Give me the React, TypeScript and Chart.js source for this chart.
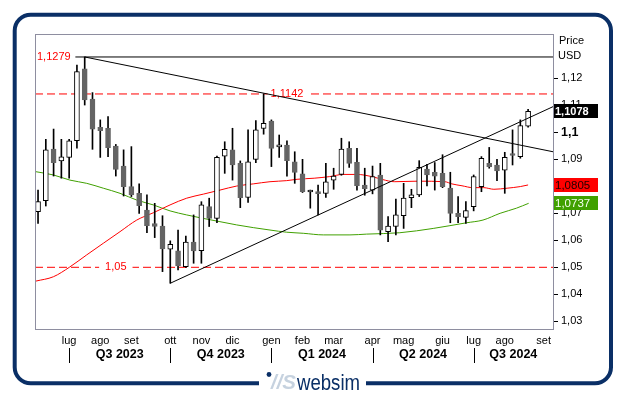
import React, { useEffect, useRef } from 'react';
import { Chart, registerables } from 'chart.js';

Chart.register(...registerables);

// Weekly EUR/USD candles (week 0 = first week of June 2023)
const opens = [
  1.0706, 1.0747, 1.0938, 1.0894, 1.0907, 1.0969, 1.1235, 1.1123, 1.1018, 1.1015,
  1.0949, 1.0875, 1.0799, 1.0774, 1.0712, 1.0662, 1.0653, 1.0567, 1.0561, 1.0502,
  1.0593, 1.0562, 1.0725, 1.0681, 1.0912, 1.0935, 1.0885, 1.0759, 1.0900, 1.1014,
  1.1042, 1.0946, 1.0953, 1.0891, 1.0846, 1.0779, 1.0779, 1.0774, 1.0823, 1.0844,
  1.0941, 1.0889, 1.0805, 1.0786, 1.0842, 1.0632, 1.0651, 1.0691, 1.0758, 1.0768,
  1.0864, 1.0852, 1.0848, 1.0793, 1.0700, 1.0685, 1.0725, 1.0799, 1.0885, 1.0879,
  1.0860, 1.0920, 1.0910, 1.1023,
];
const highs = [
  1.0786, 1.0974, 1.1012, 1.0974, 1.0974, 1.1249, 1.1279, 1.1147, 1.1046, 1.1058,
  1.0955, 1.0935, 1.0947, 1.0809, 1.0768, 1.0737, 1.0691, 1.0598, 1.0638, 1.0616,
  1.0694, 1.0743, 1.0756, 1.0912, 1.0965, 1.1015, 1.0894, 1.1009, 1.1043, 1.1142,
  1.1046, 1.0990, 1.0968, 1.0928, 1.0900, 1.0786, 1.0805, 1.0885, 1.0867, 1.0978,
  1.0965, 1.0941, 1.0867, 1.0875, 1.0885, 1.0688, 1.0753, 1.0811, 1.0789, 1.0895,
  1.0881, 1.0888, 1.0917, 1.0852, 1.0762, 1.0743, 1.0842, 1.0910, 1.0944, 1.0900,
  1.0926, 1.1009, 1.1046, 1.1085,
];
const lows = [
  1.0663, 1.0727, 1.0838, 1.0830, 1.0830, 1.0941, 1.1101, 1.0937, 1.0907, 1.0910,
  1.0838, 1.0764, 1.0762, 1.0700, 1.0628, 1.0610, 1.0484, 1.0441, 1.0490, 1.0500,
  1.0515, 1.0515, 1.0651, 1.0665, 1.0848, 1.0823, 1.0721, 1.0740, 1.0888, 1.0993,
  1.0873, 1.0907, 1.0838, 1.0811, 1.0777, 1.0719, 1.0694, 1.0759, 1.0789, 1.0841,
  1.0870, 1.0786, 1.0767, 1.0772, 1.0620, 1.0595, 1.0620, 1.0644, 1.0721, 1.0762,
  1.0801, 1.0786, 1.0795, 1.0665, 1.0665, 1.0663, 1.0709, 1.0780, 1.0867, 1.0821,
  1.0774, 1.0879, 1.0904, 1.1019,
];
const closes = [
  1.0743, 1.0935, 1.0888, 1.0909, 1.0968, 1.1225, 1.1120, 1.1012, 1.1006, 1.0943,
  1.0863, 1.0799, 1.0768, 1.0728, 1.0654, 1.0651, 1.0568, 1.0585, 1.0505, 1.0593,
  1.0561, 1.0731, 1.0681, 1.0907, 1.0937, 1.0879, 1.0758, 1.0891, 1.1009, 1.1033,
  1.0940, 1.0948, 1.0895, 1.0851, 1.0780, 1.0781, 1.0773, 1.0817, 1.0838, 1.0938,
  1.0885, 1.0802, 1.0791, 1.0836, 1.0638, 1.0653, 1.0694, 1.0756, 1.0768, 1.0870,
  1.0842, 1.0838, 1.0799, 1.0700, 1.0688, 1.0710, 1.0836, 1.0904, 1.0873, 1.0857,
  1.0907, 1.0914, 1.1025, 1.1078,
];

// Moving averages (week index, value)
const redMaIdx = [-0.26, 1.97, 4.02, 6.26, 8.39, 10.54, 12.69, 14.82, 16.97, 19.11, 21.25, 23.39, 25.54, 27.67, 29.82, 31.97, 33.3, 35.5, 37.5, 39.2, 41.0, 42.9, 44.3, 45.8, 48.8, 52.3, 53.2, 54.5, 55.9, 57.3, 58.6, 60.3, 62.0, 63.0];
const redMaVal = [1.0449, 1.0465, 1.0500, 1.0546, 1.0589, 1.0632, 1.0675, 1.0702, 1.0731, 1.0756, 1.0771, 1.0786, 1.0801, 1.0809, 1.0817, 1.0821, 1.0826, 1.0830, 1.0836, 1.0844, 1.0844, 1.0836, 1.0825, 1.0817, 1.0819, 1.0817, 1.0809, 1.0802, 1.0795, 1.0795, 1.0789, 1.0793, 1.0799, 1.0805];
const greenMaIdx = [-0.26, 1.97, 4.1, 6.26, 8.39, 10.54, 12.69, 14.82, 16.97, 19.11, 21.25, 23.39, 25.54, 27.67, 29.82, 31.97, 34.1, 36.67, 40.1, 42.25, 46.5, 50.8, 55.1, 57.2, 59.4, 61.5, 63.07];
const greenMaVal = [1.0854, 1.0842, 1.0823, 1.0811, 1.0793, 1.0774, 1.0749, 1.0731, 1.0709, 1.0694, 1.0681, 1.0669, 1.0657, 1.0647, 1.0638, 1.0630, 1.0626, 1.0620, 1.0620, 1.0623, 1.0628, 1.0644, 1.0665, 1.0675, 1.0700, 1.0719, 1.0737];

// Trend lines and levels
const topLevel = 1.1279;
const topLevelStartIdx = 4.8;
const descLine = [{ x: 6, y: 1.1279 }, { x: 66.2, y: 1.0928 }];
const ascLine = [{ x: 17, y: 1.0441 }, { x: 66.2, y: 1.1095 }];
const resistLevel = 1.1142;
const resistPeakIdx = 29;
const supportLevel = 1.05;
const supportLabelIdx = 10;

// Axes
const xMin = -0.39;
const xMax = 66.2;
const yMin = 1.02715;
const yMax = 1.13641;
const yTicks = [1.03, 1.04, 1.05, 1.06, 1.07, 1.08, 1.09, 1.1, 1.11, 1.12];
const monthTickIdx = [4, 8, 12, 17, 21, 25, 30, 34, 38, 43, 47, 52, 56, 60, 65];
const monthLabels = ['lug', 'ago', 'set', 'ott', 'nov', 'dic', 'gen', 'feb', 'mar', 'apr', 'mag', 'giu', 'lug', 'ago', 'set'];
const quarterStartIdx = [4, 17, 30, 43, 56];
const quarterLabels = ['Q3 2023', 'Q4 2023', 'Q1 2024', 'Q2 2024', 'Q3 2024'];

const FONT = "'Liberation Sans', Arial, sans-serif";
const NAVY = '#0a2f66';
const RED = '#ff0000';
const GREEN = '#40a000';
const DOWN = '#646464';

const fmt = (v: number, d: number) => String(parseFloat(v.toFixed(d))).replace('.', ',');
const isUp = (i: number) => closes[i] >= opens[i];

const decorPlugin = {
  id: 'decor',
  afterDatasetDraw(chart: any, args: any) {
    const ds = chart.data.datasets[args.index];
    const ctx = chart.ctx;
    const xs = chart.scales.x;
    const ys = chart.scales.y;
    if (ds.label === 'resist') {
      const txt = fmt(resistLevel, 4);
      const y = ys.getPixelForValue(resistLevel);
      const x = xs.getPixelForValue(resistPeakIdx) + 7;
      ctx.save();
      ctx.font = `11px ${FONT}`;
      const w = ctx.measureText(txt).width;
      ctx.fillStyle = '#fff';
      ctx.fillRect(x - 3, y - 6, w + 9, 12);
      ctx.fillStyle = RED;
      ctx.textBaseline = 'middle';
      ctx.fillText(txt, x, y);
      ctx.restore();
    }
    if (ds.label === 'support') {
      const txt = fmt(supportLevel, 4);
      const y = ys.getPixelForValue(supportLevel);
      const x = xs.getPixelForValue(supportLabelIdx);
      ctx.save();
      ctx.font = `11px ${FONT}`;
      const w = ctx.measureText(txt).width;
      ctx.fillStyle = '#fff';
      ctx.fillRect(x - w / 2 - 6, y - 6, w + 12, 12);
      ctx.fillStyle = RED;
      ctx.textBaseline = 'middle';
      ctx.textAlign = 'center';
      ctx.fillText(txt, x, y);
      ctx.restore();
    }
  },
  afterDraw(chart: any) {
    const ctx = chart.ctx;
    const ca = chart.chartArea;
    const xs = chart.scales.x;
    const ys = chart.scales.y;
    ctx.save();
    // plot frame
    ctx.strokeStyle = '#8e8ea0';
    ctx.lineWidth = 1;
    ctx.strokeRect(Math.round(ca.left) + 0.5, Math.round(ca.top) + 0.5, Math.round(ca.right - ca.left), Math.round(ca.bottom - ca.top));

    // top level label
    ctx.font = `11px ${FONT}`;
    ctx.fillStyle = RED;
    ctx.textBaseline = 'middle';
    ctx.textAlign = 'left';
    ctx.fillText(fmt(topLevel, 4), ca.left + 2, ys.getPixelForValue(topLevel));

    // quarter separators and labels
    ctx.strokeStyle = '#000';
    ctx.fillStyle = '#000';
    ctx.font = `bold 12.5px ${FONT}`;
    ctx.textAlign = 'center';
    quarterStartIdx.forEach((q, i) => {
      const x = Math.round(xs.getPixelForValue(q)) + 0.5;
      ctx.beginPath();
      ctx.moveTo(x, ca.bottom + 19);
      ctx.lineTo(x, ca.bottom + 34);
      ctx.stroke();
      const x2 = i + 1 < quarterStartIdx.length ? xs.getPixelForValue(quarterStartIdx[i + 1]) : ca.right;
      ctx.fillText(quarterLabels[i], (xs.getPixelForValue(q) + x2) / 2, ca.bottom + 26);
    });

    // Price / USD
    ctx.font = `11px ${FONT}`;
    ctx.textAlign = 'left';
    ctx.fillText('Price', ca.right + 6, ca.top + 7);
    ctx.fillText('USD', ca.right + 5, ca.top + 22);

    // value boxes
    const box = (v: number, bg: string, fg: string, font: string) => {
      const y = ys.getPixelForValue(v);
      ctx.fillStyle = bg;
      ctx.fillRect(ca.right + 1, Math.round(y) - 7, 44, 14);
      ctx.fillStyle = fg;
      ctx.font = font;
      ctx.textBaseline = 'middle';
      ctx.fillText(fmt(v, 4), ca.right + 2, y + 0.5);
    };
    box(closes[closes.length - 1], '#000', '#fff', `bold 11px ${FONT}`);
    box(redMaVal[redMaVal.length - 1], RED, '#200000', `11.5px ${FONT}`);
    box(greenMaVal[greenMaVal.length - 1], GREEN, '#f4fff0', `11.5px ${FONT}`);

    // outer frame
    const fx0 = 14.7, fy0 = 14.7, fx1 = 611, fy1 = 383.3, r = 16;
    ctx.strokeStyle = NAVY;
    ctx.lineWidth = 4;
    ctx.beginPath();
    ctx.moveTo(fx0 + r, fy0);
    ctx.lineTo(fx1 - r, fy0);
    ctx.arcTo(fx1, fy0, fx1, fy0 + r, r);
    ctx.lineTo(fx1, fy1 - r);
    ctx.arcTo(fx1, fy1, fx1 - r, fy1, r);
    ctx.lineTo(fx0 + r, fy1);
    ctx.arcTo(fx0, fy1, fx0, fy1 - r, r);
    ctx.lineTo(fx0, fy0 + r);
    ctx.arcTo(fx0, fy0, fx0 + r, fy0, r);
    ctx.closePath();
    ctx.stroke();

    // logo
    ctx.fillStyle = '#fff';
    ctx.fillRect(259, 378, 107, 12);
    ctx.fillStyle = NAVY;
    ctx.beginPath();
    ctx.arc(269, 374.5, 2.4, 0, Math.PI * 2);
    ctx.fill();
    ctx.save();
    ctx.font = `italic bold 20px ${FONT}`;
    ctx.fillStyle = '#c6d2df';
    ctx.textBaseline = 'alphabetic';
    const iw = ctx.measureText('//S').width;
    ctx.translate(271, 389);
    ctx.scale(25 / iw, 1);
    ctx.fillText('//S', 0, 0);
    ctx.restore();
    ctx.save();
    ctx.font = `22px ${FONT}`;
    ctx.fillStyle = NAVY;
    ctx.textBaseline = 'alphabetic';
    const ww = ctx.measureText('websim').width;
    ctx.translate(297, 389.5);
    ctx.scale(63 / ww, 1);
    ctx.fillText('websim', 0, 0);
    ctx.restore();

    ctx.restore();
  },
};

export default function App() {
  const ref = useRef<HTMLCanvasElement>(null);
  useEffect(() => {
    const canvas = ref.current;
    if (!canvas) return;
    const chart = new Chart(canvas, {
      type: 'bar',
      data: {
        datasets: [
          {
            type: 'line',
            label: 'trendTop',
            data: [{ x: topLevelStartIdx, y: topLevel }, { x: xMax, y: topLevel }],
            borderColor: '#000', borderWidth: 1, pointRadius: 0, order: 0,
          },
          {
            type: 'line',
            label: 'trendDesc',
            data: descLine,
            borderColor: '#000', borderWidth: 1, pointRadius: 0, order: 0,
          },
          {
            type: 'line',
            label: 'trendAsc',
            data: ascLine,
            borderColor: '#000', borderWidth: 1, pointRadius: 0, order: 0,
          },
          {
            type: 'bar',
            label: 'body',
            data: opens.map((o, i) => ({ x: i, y: [o, closes[i]] })),
            backgroundColor: (c: any) => (isUp(c.dataIndex) ? '#ffffff' : DOWN),
            borderColor: (c: any) => (isUp(c.dataIndex) ? '#000000' : DOWN),
            borderWidth: 1,
            borderSkipped: false,
            barThickness: 5,
            minBarLength: 2,
            grouped: false,
            order: 1,
          } as any,
          {
            type: 'bar',
            label: 'wick',
            data: lows.map((l, i) => ({ x: i, y: [l, highs[i]] })),
            backgroundColor: '#000',
            borderWidth: 0,
            barThickness: 1,
            grouped: false,
            order: 2,
          } as any,
          {
            type: 'line',
            label: 'maRed',
            data: redMaIdx.map((x, i) => ({ x, y: redMaVal[i] })),
            borderColor: RED, borderWidth: 1, pointRadius: 0, cubicInterpolationMode: 'monotone', order: 3,
          },
          {
            type: 'line',
            label: 'maGreen',
            data: greenMaIdx.map((x, i) => ({ x, y: greenMaVal[i] })),
            borderColor: GREEN, borderWidth: 1, pointRadius: 0, cubicInterpolationMode: 'monotone', order: 3,
          },
          {
            type: 'line',
            label: 'resist',
            data: [{ x: xMin, y: resistLevel }, { x: xMax, y: resistLevel }],
            borderColor: RED, borderWidth: 1, borderDash: [8, 4], pointRadius: 0, order: 5,
          },
          {
            type: 'line',
            label: 'support',
            data: [{ x: xMin, y: supportLevel }, { x: xMax, y: supportLevel }],
            borderColor: RED, borderWidth: 1, borderDash: [8, 4], pointRadius: 0, order: 6,
          },
        ] as any,
      },
      options: {
        responsive: false,
        animation: false,
        layout: { padding: { left: 35, top: 34, right: 0, bottom: 0 } },
        plugins: { legend: { display: false }, tooltip: { enabled: false } },
        scales: {
          x: {
            type: 'linear',
            min: xMin,
            max: xMax,
            offset: false,
            grid: { display: false, drawTicks: false },
            border: { display: false },
            afterBuildTicks: (s: any) => {
              s.ticks = monthTickIdx.map((v) => ({ value: v }));
            },
            afterFit: (s: any) => {
              s.height = 67;
            },
            ticks: {
              autoSkip: false,
              maxRotation: 0,
              padding: 5,
              color: '#000',
              font: { family: FONT, size: 11 },
              callback: (_v: any, i: number) => monthLabels[i],
            },
          },
          y: {
            type: 'linear',
            position: 'right',
            min: yMin,
            max: yMax,
            grid: { drawOnChartArea: false, tickLength: 5, color: '#000' },
            border: { display: false },
            afterBuildTicks: (s: any) => {
              s.ticks = yTicks.map((v) => ({ value: v }));
            },
            afterFit: (s: any) => {
              s.width = 74;
            },
            ticks: {
              padding: 3,
              color: '#000',
              font: (c: any) =>
                c.tick && Math.abs(c.tick.value - 1.1) < 1e-6
                  ? { family: FONT, size: 12.5, weight: 'bold' }
                  : { family: FONT, size: 11 },
              callback: (v: any) => fmt(Number(v), 2),
            },
          },
        },
      } as any,
      plugins: [decorPlugin],
    });
    return () => chart.destroy();
  }, []);
  return (
    <div style={{ position: 'fixed', left: 0, top: 0, width: 627, height: 396, background: '#fff' }}>
      <canvas ref={ref} width={627} height={396} style={{ display: 'block', width: 627, height: 396 }} />
    </div>
  );
}
